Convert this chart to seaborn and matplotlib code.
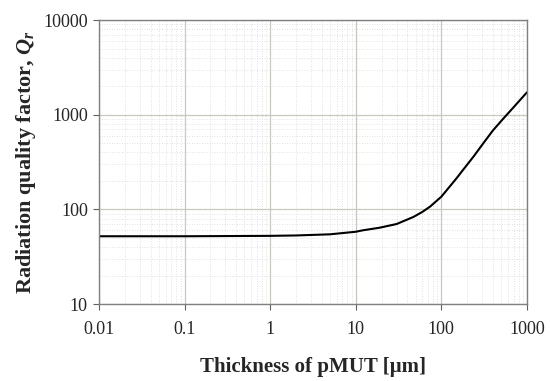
import matplotlib
matplotlib.use('Agg')
import matplotlib.pyplot as plt
import seaborn as sns
import pandas as pd
from matplotlib.ticker import LogLocator, FixedLocator, FixedFormatter, NullFormatter

# values
thickness = [0.01, 0.1, 1, 2, 5, 10, 12, 19, 30, 47, 60, 74, 100, 150, 180, 240, 310, 400, 525, 700, 1000]
q_rad = [52, 52, 52.5, 53, 54.5, 58, 60, 64, 70, 83, 94, 107, 136, 212, 262, 365, 500, 680, 900, 1200, 1720]

x_ticks = [0.01, 0.1, 1, 10, 100, 1000]
x_labels = ['0.01', '0.1', '1', '10', '100', '1000']
y_ticks = [10, 100, 1000, 10000]
y_labels = ['10', '100', '1000', '10000']

df = pd.DataFrame({'t': thickness, 'q': q_rad})

sns.set_style('white')
plt.rcParams['font.family'] = ['Liberation Serif', 'DejaVu Serif']
plt.rcParams['mathtext.fontset'] = 'custom'
plt.rcParams['mathtext.it'] = 'Liberation Serif:italic:bold'
plt.rcParams['mathtext.rm'] = 'Liberation Serif:bold'

fig = plt.figure(figsize=(5.5, 3.81), dpi=100)
ax = fig.add_axes([0.18, 0.202, 0.778, 0.7455])

sns.lineplot(data=df, x='t', y='q', color='black', linewidth=1.5, ax=ax)
ax.set_xscale('log')
ax.set_yscale('log')
ax.set_xlim(0.01, 1000)
ax.set_ylim(10, 10000)

ax.xaxis.set_major_locator(FixedLocator(x_ticks))
ax.xaxis.set_major_formatter(FixedFormatter(x_labels))
ax.yaxis.set_major_locator(FixedLocator(y_ticks))
ax.yaxis.set_major_formatter(FixedFormatter(y_labels))
ax.xaxis.set_minor_locator(LogLocator(base=10, subs=range(2, 10), numticks=20))
ax.yaxis.set_minor_locator(LogLocator(base=10, subs=range(2, 10), numticks=20))
ax.xaxis.set_minor_formatter(NullFormatter())
ax.yaxis.set_minor_formatter(NullFormatter())

ax.grid(which='major', color='#c8c8c0', linewidth=0.9, linestyle='-')
ax.grid(which='minor', color='#d8d8d8', linewidth=0.6, linestyle=(0, (1, 2)))
ax.set_axisbelow(True)

for s in ax.spines.values():
    s.set_color('#808080')
    s.set_linewidth(1.0)

ax.tick_params(which='major', direction='out', length=4, width=0.8, color='#606060',
               labelsize=13, bottom=True, left=True, pad=4)
ax.tick_params(which='minor', length=0)
ax.tick_params(axis='x', pad=8)

ax.set_xlabel('Thickness of pMUT [\u03bcm]', fontsize=15, fontweight='bold', labelpad=14)
ax.set_ylabel('Radiation quality factor, $Q_r$', fontsize=16, fontweight='bold', labelpad=4)

fig.savefig('out.png', dpi=100)
